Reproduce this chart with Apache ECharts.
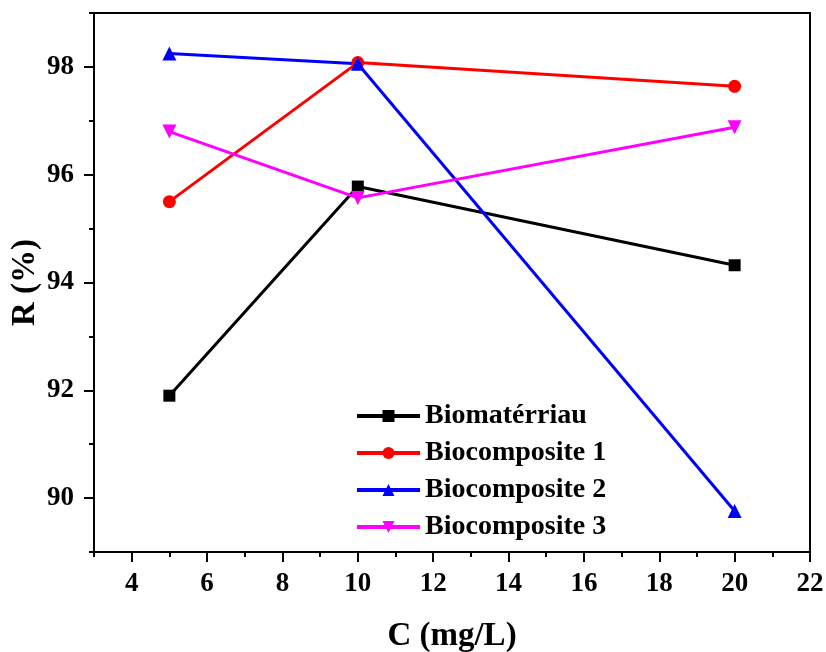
<!DOCTYPE html>
<html>
<head>
<meta charset="utf-8">
<script src="https://cdn.jsdelivr.net/npm/echarts@6/dist/echarts.min.js"></script>
<style>
  html, body { margin: 0; padding: 0; background: #fff; }
  #chart { width: 826px; height: 652px; }
</style>
</head>
<body>
<div id="chart"></div>
<script>
var concentrations = [5, 10, 20];
var biomateriau = [91.9, 95.78, 94.32];
var biocomposite1 = [95.5, 98.08, 97.64];
var biocomposite2 = [98.25, 98.06, 89.76];
var biocomposite3 = [96.8, 95.57, 96.88];

var xMajor = [4, 6, 8, 10, 12, 14, 16, 18, 20, 22];
var xMinor = [3, 5, 7, 9, 11, 13, 15, 17, 19, 21];
var yMajor = [90, 92, 94, 96, 98];
var yMinor = [89, 91, 93, 95, 97, 99];

var font = '"Liberation Serif", "Times New Roman", serif';

function pairs(ys) {
  return concentrations.map(function (x, i) { return [x, ys[i]]; });
}

function line(name, ys, color, symbol, size, rotate) {
  return {
    name: name,
    type: 'line',
    data: pairs(ys),
    symbol: symbol,
    symbolSize: size,
    symbolRotate: rotate || 0,
    lineStyle: { color: color, width: 3 },
    itemStyle: { color: color },
    animation: false
  };
}

var chart = echarts.init(document.getElementById('chart'));
chart.setOption({
  backgroundColor: '#fff',
  grid: {
    left: 94, right: 16, top: 13, bottom: 100,
    outerBoundsMode: 'none', containLabel: false,
    show: true, borderColor: '#000', borderWidth: 2
  },
  legend: {
    orient: 'vertical',
    left: 350, top: 397,
    itemWidth: 63, itemHeight: 15, itemGap: 9,
    lineStyle: { width: 4 },
    textStyle: { fontFamily: font, fontWeight: 'bold', fontSize: 28, color: '#000' },
    data: ['Biomatérriau', 'Biocomposite 1', 'Biocomposite 2', 'Biocomposite 3']
  },
  xAxis: [{
    type: 'value', min: 3, max: 22,
    name: 'C (mg/L)', nameLocation: 'middle', nameGap: 68, nameMoveOverlap: false,
    nameTextStyle: { fontFamily: font, fontWeight: 'bold', fontSize: 33, color: '#000' },
    axisLine: { lineStyle: { color: '#000', width: 2 } },
    axisTick: { customValues: xMajor, length: 10, lineStyle: { width: 2, color: '#000' } },
    axisLabel: { customValues: xMajor, margin: 19, fontFamily: font, fontWeight: 'bold', fontSize: 27, color: '#000' },
    splitLine: { show: false }
  }, {
    type: 'value', min: 3, max: 22, position: 'bottom',
    axisLine: { show: false },
    axisTick: { customValues: xMinor, length: 5, lineStyle: { width: 2, color: '#000' } },
    axisLabel: { show: false },
    splitLine: { show: false }
  }],
  yAxis: [{
    type: 'value', min: 89, max: 99,
    name: 'R (%)', nameLocation: 'middle', nameGap: 52, nameMoveOverlap: false,
    nameTextStyle: { fontFamily: font, fontWeight: 'bold', fontSize: 33, color: '#000' },
    axisLine: { show: true, lineStyle: { color: '#000', width: 2 } },
    axisTick: { customValues: yMajor, length: 10, lineStyle: { width: 2, color: '#000' } },
    axisLabel: { customValues: yMajor, margin: 20, fontFamily: font, fontWeight: 'bold', fontSize: 27, color: '#000' },
    splitLine: { show: false }
  }, {
    type: 'value', min: 89, max: 99, position: 'left',
    axisLine: { show: false },
    axisTick: { customValues: yMinor, length: 5, lineStyle: { width: 2, color: '#000' } },
    axisLabel: { show: false },
    splitLine: { show: false }
  }],
  series: [
    line('Biomatérriau', biomateriau, '#000000', 'rect', 12),
    line('Biocomposite 1', biocomposite1, '#ff0000', 'circle', 13),
    line('Biocomposite 2', biocomposite2, '#0000ff', 'triangle', 14),
    line('Biocomposite 3', biocomposite3, '#ff00ff', 'triangle', 14, 180)
  ]
});
</script>
</body>
</html>
